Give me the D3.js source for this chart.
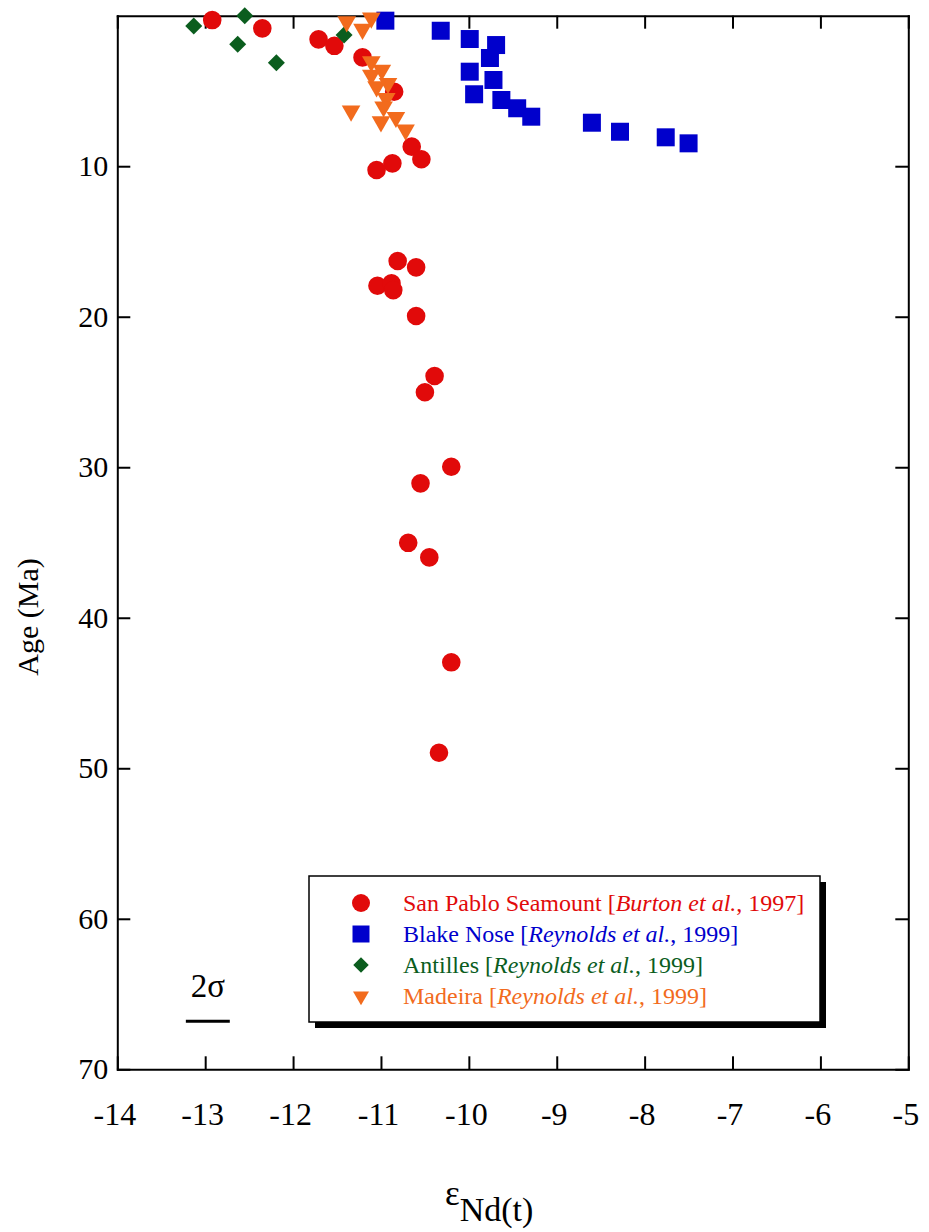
<!DOCTYPE html>
<html>
<head>
<meta charset="utf-8">
<script src="https://cdn.jsdelivr.net/npm/d3@7"></script>
<style>
  body { margin: 0; background: #fff; }
  .axis path, .axis line { stroke: #000; stroke-width: 2px; }
</style>
</head>
<body>
<div id="chart"></div>
<script>

// data: [eNd(t), age Ma]
var sanPablo = [
  [-12.92, 0.29], [-12.35, 0.84], [-11.71, 1.57], [-11.53, 2.0], [-11.21, 2.77],
  [-10.85, 5.05], [-10.65, 8.7], [-10.54, 9.54], [-10.87, 9.81], [-11.05, 10.25],
  [-10.81, 16.3], [-10.60, 16.72], [-11.04, 17.94], [-10.88, 17.78], [-10.86, 18.23],
  [-10.60, 19.95], [-10.39, 23.94], [-10.50, 25.02], [-10.20, 29.97], [-10.55, 31.07],
  [-10.69, 35.02], [-10.45, 35.99], [-10.20, 42.96], [-10.34, 48.97]
];

var blakeNose = [
  [-10.95, 0.33], [-10.32, 1.0], [-9.99, 1.55], [-9.69, 1.95], [-9.76, 2.81],
  [-9.99, 3.72], [-9.72, 4.27], [-9.94, 5.22], [-9.63, 5.6], [-9.45, 6.15],
  [-9.29, 6.71], [-8.60, 7.11], [-8.28, 7.71], [-7.76, 8.08], [-7.50, 8.48]
];

var antilles = [
  [-13.13, 0.68], [-12.55, 0.0], [-12.63, 1.9], [-12.19, 3.12], [-11.42, 1.28]
];

var madeira = [
  [-11.39, 0.4], [-11.11, 0.15], [-11.21, 0.9], [-11.11, 3.05], [-10.99, 3.61],
  [-11.11, 3.94], [-10.92, 4.49], [-11.05, 4.72], [-10.94, 5.49], [-10.97, 6.05],
  [-11.34, 6.33], [-10.83, 6.75], [-11.0, 7.04], [-10.72, 7.59]
];

var xTicks = [-14, -13, -12, -11, -10, -9, -8, -7, -6, -5];
var yTicks = [10, 20, 30, 40, 50, 60, 70];

// 2 sigma error bar (eNd units) and the age it is drawn at
var twoSigma = [-13.22, -12.72];
var twoSigmaAge = 66.8;

var series = [
  {name: "San Pablo Seamount", ref: "Burton et al.", year: "1997", data: sanPablo, color: "#e10a0a", shape: "circle"},
  {name: "Blake Nose", ref: "Reynolds et al.", year: "1999", data: blakeNose, color: "#0000cc", shape: "square"},
  {name: "Antilles", ref: "Reynolds et al.", year: "1999", data: antilles, color: "#0b5d1e", shape: "diamond"},
  {name: "Madeira", ref: "Reynolds et al.", year: "1999", data: madeira, color: "#f26b1d", shape: "triangle"}
];

var serif = "'Liberation Serif', 'Times New Roman', serif";

var width = 929, height = 1232;
var margin = {top: 15.7, right: 20.7, bottom: 162.7, left: 117.3};
var w = width - margin.left - margin.right;
var h = height - margin.top - margin.bottom;

var xScale = d3.scaleLinear().domain([-14, -5]).range([0, w]);
var yScale = d3.scaleLinear().domain([0, 70]).range([0, h]);

var svg = d3.select("#chart").append("svg")
    .attr("width", width)
    .attr("height", height);

var g = svg.append("g")
    .attr("transform", "translate(" + margin.left + "," + margin.top + ")");

// plain hyphen minus like the original figure
var fmt = function(d) { return String(d); };

// axes, ticks pointing inward on all four sides
g.append("g").attr("class", "axis")
    .attr("transform", "translate(0," + h + ")")
    .call(d3.axisBottom(xScale).tickValues(xTicks).tickSize(-13).tickSizeOuter(0).tickPadding(33).tickFormat(fmt))
    .selectAll("text")
    .attr("font-family", serif)
    .attr("font-size", "32px")
    .attr("dx", "-3");

g.append("g").attr("class", "axis")
    .call(d3.axisTop(xScale).tickValues(xTicks).tickSize(-13).tickSizeOuter(0).tickFormat(""));

g.append("g").attr("class", "axis")
    .call(d3.axisLeft(yScale).tickValues(yTicks).tickSize(-13).tickSizeOuter(0).tickPadding(9).tickFormat(fmt))
    .selectAll("text")
    .attr("font-family", serif)
    .attr("font-size", "30px");

g.append("g").attr("class", "axis")
    .attr("transform", "translate(" + w + ",0)")
    .call(d3.axisRight(yScale).tickValues(yTicks).tickSize(-13).tickSizeOuter(0).tickFormat(""));

g.selectAll(".axis .domain").attr("stroke-linecap", "square");

// axis titles
svg.append("text")
    .attr("transform", "translate(38,617) rotate(-90)")
    .attr("text-anchor", "middle")
    .attr("font-family", serif)
    .attr("font-size", "30px")
    .text("Age (Ma)");

var xt = svg.append("text")
    .attr("x", 445)
    .attr("y", 1205)
    .attr("font-family", serif);
xt.append("tspan").attr("font-size", "35px").text("ε");
xt.append("tspan").attr("dy", 16).attr("font-size", "34px").text("Nd(t)");

// marker symbols
var symbolFor = {
  circle: d3.symbol().type(d3.symbolCircle).size(Math.PI * 9.3 * 9.3),
  square: d3.symbol().type(d3.symbolSquare).size(18 * 18),
  diamond: d3.symbol().type(d3.symbolSquare).size(12 * 12),
  triangle: d3.symbol().type(d3.symbolTriangle).size(150)
};
var rotFor = {circle: 0, square: 0, diamond: 45, triangle: 180};

series.forEach(function(s) {
  g.selectAll(".pt-" + s.shape)
    .data(s.data)
    .enter()
    .append("path")
    .attr("class", "pt-" + s.shape)
    .attr("d", symbolFor[s.shape]())
    .attr("fill", s.color)
    .attr("transform", function(d) {
      return "translate(" + xScale(d[0]) + "," + yScale(d[1]) + ") rotate(" + rotFor[s.shape] + ")";
    });
});

// 2 sigma bar
g.append("line")
    .attr("x1", xScale(twoSigma[0]))
    .attr("x2", xScale(twoSigma[1]))
    .attr("y1", yScale(twoSigmaAge))
    .attr("y2", yScale(twoSigmaAge))
    .attr("stroke", "#000")
    .attr("stroke-width", 3);

g.append("text")
    .attr("x", xScale((twoSigma[0] + twoSigma[1]) / 2))
    .attr("y", yScale(twoSigmaAge) - 24)
    .attr("text-anchor", "middle")
    .attr("font-family", serif)
    .attr("font-size", "33px")
    .text("2σ");

// legend with drop shadow
var lg = svg.append("g").attr("transform", "translate(309,876)");
lg.append("rect")
    .attr("x", 6).attr("y", 6)
    .attr("width", 511).attr("height", 146)
    .attr("fill", "#000");
lg.append("rect")
    .attr("width", 511).attr("height", 146)
    .attr("fill", "#fff")
    .attr("stroke", "#000")
    .attr("stroke-width", 1.5);

var rows = lg.selectAll(".row")
    .data(series)
    .enter()
    .append("g")
    .attr("class", "row")
    .attr("transform", function(d, i) { return "translate(0," + (27 + i * 31) + ")"; });

rows.append("path")
    .attr("d", function(d) {
      var sz = {circle: Math.PI * 9 * 9, square: 17 * 17, diamond: 11 * 11, triangle: 110}[d.shape];
      var t = d.shape == "triangle" ? d3.symbolTriangle : (d.shape == "circle" ? d3.symbolCircle : d3.symbolSquare);
      return d3.symbol().type(t).size(sz)();
    })
    .attr("fill", function(d) { return d.color; })
    .attr("transform", function(d) { return "translate(52,0) rotate(" + rotFor[d.shape] + ")"; });

var lt = rows.append("text")
    .attr("x", 94)
    .attr("y", 8)
    .attr("font-family", serif)
    .attr("font-size", "24px")
    .attr("fill", function(d) { return d.color; });
lt.append("tspan").text(function(d) { return d.name + " ["; });
lt.append("tspan").attr("font-style", "italic").text(function(d) { return d.ref; });
lt.append("tspan").text(function(d) { return ", " + d.year + "]"; });

</script>
</body>
</html>
